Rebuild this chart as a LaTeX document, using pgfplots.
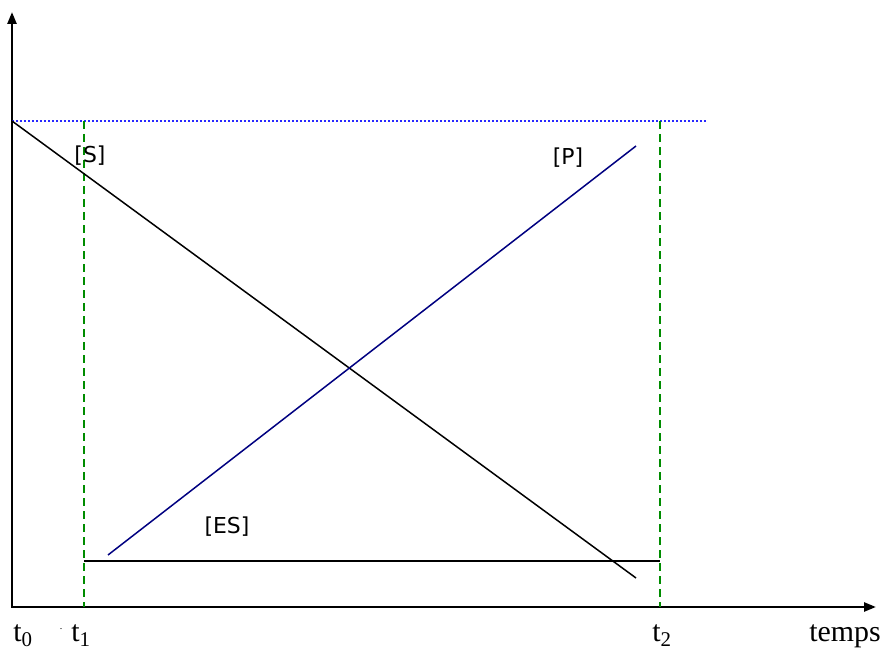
\documentclass[border=0pt]{standalone}
\usepackage{fontspec}
\setmainfont{Liberation Serif}
\newfontfamily\sansf{DejaVu Sans}
\usepackage{pgfplots}
\pgfplotsset{compat=1.18}
\usetikzlibrary{arrows.meta}
\definecolor{dotblue}{RGB}{40,40,255}
\definecolor{pnavy}{RGB}{0,0,128}
\definecolor{tgreen}{RGB}{0,140,0}

\begin{document}
\begin{tikzpicture}
\begin{axis}[
  scale only axis,
  width=888bp, height=650bp,
  xmin=0, xmax=888, ymin=0, ymax=650,
  hide axis, clip=false,
]
% axes (pixel coords, y flipped)
\addplot[black, line width=2.5bp, -{Triangle[length=12bp,width=9bp]}]
  coordinates {(12,43)(12,638)};
\addplot[black, line width=2.5bp, -{Triangle[length=12bp,width=9bp]}]
  coordinates {(11,43)(876,43)};
% saturation level
\addplot[dotblue, line width=1.5bp, dash pattern=on 1.5bp off 2.5bp]
  coordinates {(12,529)(706,529)};
% t1 and t2 markers
\addplot[tgreen, line width=1.5bp, dash pattern=on 8bp off 5bp]
  coordinates {(84,529)(84,43)};
\addplot[tgreen, line width=1.5bp, dash pattern=on 8bp off 5bp]
  coordinates {(660,529)(660,43)};
% [S]
\addplot[black, line width=1.5bp] coordinates {(12,529)(636,72)};
% [P]
\addplot[pnavy, line width=1.5bp] coordinates {(108,95)(636,504)};
% [ES]
\addplot[black, line width=1.5bp] coordinates {(84,89)(660,89)};

\node[font=\sansf\fontsize{22}{23}\selectfont] at (axis cs:90,494) {[S]};
\node[font=\sansf\fontsize{22}{23}\selectfont] at (axis cs:568,492) {[P]};
\node[font=\sansf\fontsize{22}{23}\selectfont] at (axis cs:227,123) {[ES]};

\node[anchor=base, font=\fontsize{30}{31}\selectfont, inner sep=0pt] at (axis cs:23,9) {t\textsubscript{0}};
\node[anchor=base, font=\fontsize{30}{31}\selectfont, inner sep=0pt] at (axis cs:81,9) {t\textsubscript{1}};
\node[anchor=base, font=\fontsize{30}{31}\selectfont, inner sep=0pt] at (axis cs:662,9) {t\textsubscript{2}};
\node[anchor=base, font=\fontsize{30}{31}\selectfont, inner sep=0pt] at (axis cs:845,9) {temps};
\node[anchor=base, font=\fontsize{10}{10}\selectfont, inner sep=0pt] at (axis cs:61,21) {.};
\end{axis}
\pgfresetboundingbox
\path (0,0) rectangle (888bp,650bp);
\end{tikzpicture}
\end{document}
